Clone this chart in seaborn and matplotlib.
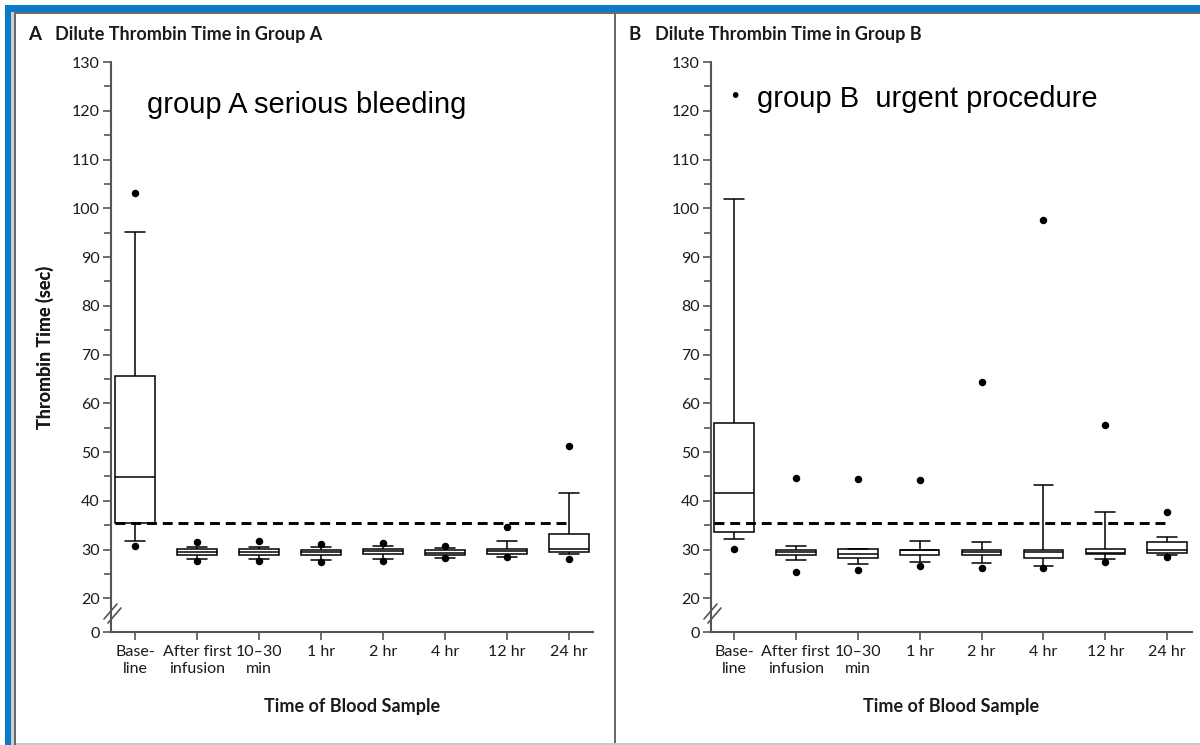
import numpy as np
import pandas as pd
import matplotlib
matplotlib.use("Agg")
import matplotlib.pyplot as plt
import seaborn as sns
from matplotlib.lines import Line2D
from matplotlib.patches import Rectangle

# ---------------- data ----------------
times = ["Base-\nline", "After first\ninfusion", "10\u201330\nmin", "1 hr",
         "2 hr", "4 hr", "12 hr", "24 hr"]
threshold = 35.5

# Group A (serious bleeding)
a_whislo = [31.8, 28.0, 28.0, 27.9, 28.1, 28.3, 28.5, 29.0]
a_q1     = [35.5, 28.8, 28.8, 28.8, 29.0, 28.8, 29.0, 29.4]
a_median = [44.8, 29.4, 29.5, 29.4, 29.6, 29.3, 29.6, 30.1]
a_q3     = [65.5, 30.2, 30.2, 30.0, 30.2, 29.8, 30.2, 33.1]
a_whishi = [95.2, 30.5, 30.6, 30.6, 30.7, 30.4, 31.8, 41.5]
a_out_hi = [103.2, 31.6, 31.8, 31.1, 31.4, 30.7, 34.7, 51.3]
a_out_lo = [30.7, 27.7, 27.7, 27.4, 27.6, 28.2, 28.5, 28.0]

# Group B (urgent procedure)
b_whislo = [32.2, 27.9, 27.0, 27.4, 27.2, 26.6, 28.1, 28.8]
b_q1     = [33.5, 28.8, 28.3, 28.8, 28.8, 28.3, 29.1, 29.2]
b_median = [41.6, 29.4, 29.1, 29.9, 29.4, 29.4, 29.2, 30.0]
b_q3     = [55.9, 30.0, 30.1, 30.0, 30.0, 29.8, 30.2, 31.6]
b_whishi = [101.9, 30.7, 30.2, 31.8, 31.6, 43.2, 37.7, 32.6]
b_out_hi = [np.nan, 44.6, 44.4, 44.3, 64.3, 97.5, 55.5, 37.6]
b_out_lo = [30.1, 25.3, 25.7, 26.6, 26.2, 26.2, 27.4, 28.5]

y_ticks = [20, 30, 40, 50, 60, 70, 80, 90, 100, 110, 120, 130]
y_minor = [25, 35, 45, 55, 65, 75, 85, 95, 105, 115, 125]
y_bottom = 13.08   # position of the broken-axis "0"


def box_frame(wlo, q1, med, q3, whi):
    rows = []
    for t, vals in zip(times, zip(wlo, q1, med, q3, whi)):
        for v in vals:
            rows.append((t, v))
    return pd.DataFrame(rows, columns=["time", "value"])


def out_frame(hi, lo):
    rows = []
    for t, h, l in zip(times, hi, lo):
        for v in (h, l):
            if not np.isnan(v):
                rows.append((t, v))
    return pd.DataFrame(rows, columns=["time", "value"])


sns.set_style("ticks")
plt.rcParams["font.family"] = ["Lato", "DejaVu Sans"]

W, H = 1200, 745
fig = plt.figure(figsize=(12, 7.45), dpi=100)

SPINE = "#555555"
TXT = "#1a1a1a"


def px(x, y):
    return x / W, 1 - y / H


panels = [
    dict(left=111, right=593, letter="A", title="Dilute Thrombin Time in Group A",
         tx=28, box=box_frame(a_whislo, a_q1, a_median, a_q3, a_whishi),
         out=out_frame(a_out_hi, a_out_lo), xlim=(-0.387, 7.387)),
    dict(left=711, right=1192, letter="B", title="Dilute Thrombin Time in Group B",
         tx=628, box=box_frame(b_whislo, b_q1, b_median, b_q3, b_whishi),
         out=out_frame(b_out_hi, b_out_lo), xlim=(-0.37, 7.40)),
]

top_px, bot_px = 62, 632
for p in panels:
    l, b = px(p["left"], bot_px)
    w = (p["right"] - p["left"]) / W
    h = (bot_px - top_px) / H
    ax = fig.add_axes([l, b, w, h])
    sns.boxplot(data=p["box"], x="time", y="value", order=times, whis=(0, 100),
                showfliers=False, width=0.64, color="white", linecolor="black",
                linewidth=1.1, ax=ax)
    sns.stripplot(data=p["out"], x="time", y="value", order=times, jitter=False,
                  color="black", size=5.4, ax=ax, zorder=4)
    ax.hlines(threshold, -0.32, len(times) - 1, colors="black", linewidth=2.1,
              linestyles=(0, (3.4, 2.0)), zorder=5)
    ax.set_xlim(*p["xlim"])
    ax.set_ylim(y_bottom, 130)
    ax.set_yticks([y_bottom] + y_ticks)
    ax.set_yticklabels(["0"] + [str(t) for t in y_ticks])
    ax.set_yticks(y_minor, minor=True)
    for s in ("top", "right"):
        ax.spines[s].set_visible(False)
    for s in ("left", "bottom"):
        ax.spines[s].set_color(SPINE)
        ax.spines[s].set_linewidth(1.5)
    ax.tick_params(axis="both", which="major", direction="out", length=6, width=1.2,
                   color=SPINE, labelsize=11.5, labelcolor=TXT, pad=2,
                   left=True, bottom=True)
    ax.tick_params(axis="y", which="minor", direction="out", length=5, width=1.2,
                   color=SPINE, left=True)
    ax.tick_params(axis="x", which="major", pad=3)
    for lab in ax.get_xticklabels():
        lab.set_linespacing(1.35)
    ax.set_xlabel("Time of Blood Sample", fontsize=13, fontweight="bold", color=TXT)
    ax.set_ylabel("Thrombin Time (sec)", fontsize=13, fontweight="bold", color=TXT)
    ax.xaxis.set_label_coords(0.5, (bot_px - 698) / (bot_px - top_px))
    ax.yaxis.set_label_coords((54 - p["left"]) / (p["right"] - p["left"]), 0.5)
    ax.grid(False)

    # panel titles
    fig.text(*px(p["tx"], 40), p["letter"], fontsize=13.5, fontweight="bold",
             color=TXT, va="baseline", ha="left")
    fig.text(*px(p["tx"] + 27, 40), p["title"], fontsize=13, fontweight="bold",
             color=TXT, va="baseline", ha="left")

    # axis break marks
    xs = p["left"]
    for dx, dy in ((0, 0), (4, 4)):
        x0, y0 = px(xs - 7 + dx, 619 + dy)
        x1, y1 = px(xs + 6 + dx, 604 + dy)
        fig.add_artist(Line2D([x0, x1], [y0, y1], color=SPINE, lw=1.2))

# annotations
ANN = ["Liberation Sans", "DejaVu Sans"]
fig.text(*px(147, 113), "group A serious bleeding", fontsize=21,
         family=ANN, color="black", va="baseline")
fig.text(*px(735, 97), "\u2022", fontsize=15, family=ANN,
         color="black", va="center", ha="center")
fig.text(*px(757, 107), "group B  urgent procedure", fontsize=21,
         family=ANN, color="black", va="baseline")

# frame decorations
BLUE = "#0a7cc7"
GRAY = "#6b6b6b"


def rect(x0, y0, x1, y1, color):
    fig.add_artist(Rectangle((x0 / W, 1 - y1 / H), (x1 - x0) / W, (y1 - y0) / H,
                             transform=fig.transFigure, color=color, lw=0, zorder=10))


rect(5, 5, 1200, 12, BLUE)
rect(5, 5, 11, 745, BLUE)
rect(11, 12, 1200, 14, GRAY)
rect(11, 12, 13.5, 745, "#d0d0d0")
rect(13.5, 12, 16, 745, GRAY)
rect(613.5, 12, 616, 745, GRAY)
rect(16, 743, 1200, 745, "#c8c8c8")

fig.savefig("out.png", dpi=100)
